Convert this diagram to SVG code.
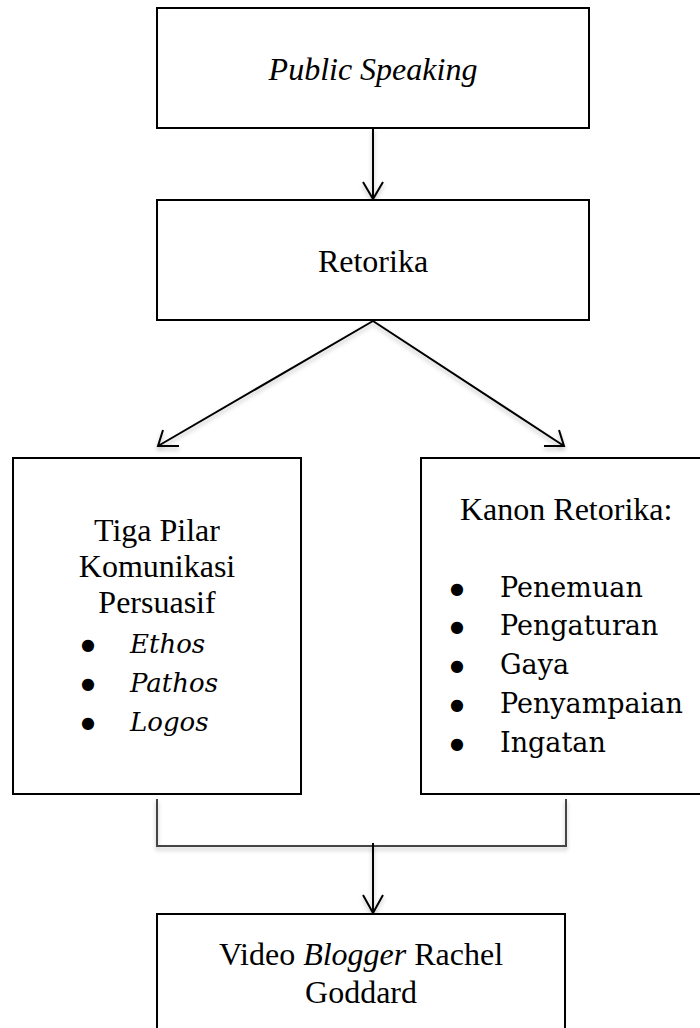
<svg xmlns="http://www.w3.org/2000/svg" width="700" height="1028" viewBox="0 0 700 1028">
<style>
.box{fill:#fff;stroke:#000;stroke-width:2}
.t{font-family:"Liberation Serif","Times New Roman",serif;font-size:32px;fill:#000}
.c{text-anchor:middle}
.i{font-style:italic}
.b{font-family:"DejaVu Serif",serif;font-size:27px;fill:#000}
.bi{font-family:"DejaVu Serif",serif;font-size:26px;font-style:italic;fill:#000}
.bul{font-family:"DejaVu Sans",sans-serif;font-size:16px;fill:#000;text-anchor:middle}
.con{fill:none;stroke:#000;stroke-width:2;filter:url(#sh)}
.br{fill:none;stroke:#444;stroke-width:2;filter:url(#sh)}
</style>
<defs>
<filter id="sh" x="-20%" y="-20%" width="140%" height="140%">
<feDropShadow dx="0" dy="3" stdDeviation="2" flood-color="#000" flood-opacity="0.25"/>
</filter>
</defs>
<rect width="700" height="1028" fill="#fff"/>
<g id="connectors">
<path class="con" d="M373 128V199M363 182L373 199L383 182"/>
<path class="con" d="M373 321L158 446M163 430L158 446L179 446"/>
<path class="con" d="M373 321L564 446M544 446L564 446L559 430"/>
<path class="br" d="M157 799V846H566V799"/>
<path class="con" d="M373 843V913M363 895L373 913L383 895"/>
</g>
<g id="public-speaking">
<rect class="box" x="157" y="8" width="432" height="120"/>
<text class="t c i" x="373" y="80">Public Speaking</text>
</g>
<g id="retorika">
<rect class="box" x="157" y="200" width="432" height="120"/>
<text class="t c" x="373" y="272">Retorika</text>
</g>
<g id="tiga-pilar">
<rect class="box" x="13" y="458" width="288" height="336"/>
<text class="t c" x="157" y="541">Tiga Pilar</text>
<text class="t c" x="157" y="577">Komunikasi</text>
<text class="t c" x="157" y="613">Persuasif</text>
<text class="bul" x="88" y="650">●</text><text class="bi" x="130" y="653">Ethos</text>
<text class="bul" x="88" y="689">●</text><text class="bi" x="130" y="692">Pathos</text>
<text class="bul" x="88" y="728">●</text><text class="bi" x="130" y="731">Logos</text>
</g>
<g id="kanon-retorika">
<rect class="box" x="421" y="458" width="300" height="336"/>
<text class="t" x="460" y="520">Kanon Retorika:</text>
<text class="bul" x="457" y="594">●</text><text class="b" x="500" y="597">Penemuan</text>
<text class="bul" x="457" y="632">●</text><text class="b" x="500" y="635">Pengaturan</text>
<text class="bul" x="457" y="671">●</text><text class="b" x="500" y="674">Gaya</text>
<text class="bul" x="457" y="710">●</text><text class="b" x="500" y="713">Penyampaian</text>
<text class="bul" x="457" y="749">●</text><text class="b" x="500" y="752">Ingatan</text>
</g>
<g id="video-blogger">
<rect class="box" x="157" y="914" width="408" height="130"/>
<text class="t c" x="361" y="965">Video <tspan class="i">Blogger</tspan> Rachel</text>
<text class="t c" x="361" y="1003">Goddard</text>
</g>
</svg>
